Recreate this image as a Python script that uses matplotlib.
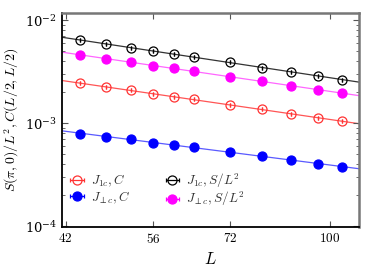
import numpy as np
import matplotlib
matplotlib.use("Agg")
import matplotlib.pyplot as plt
from matplotlib.ticker import FixedLocator, FixedFormatter, NullLocator, LogLocator

plt.rcParams['mathtext.fontset'] = 'cm'
plt.rcParams['font.family'] = ['DejaVu Serif']

# system sizes
L = np.array([44, 48, 52, 56, 60, 64, 72, 80, 88, 96, 104])

# correlation C(L/2,L/2)
C_1c = np.array([2.43e-3, 2.24e-3, 2.08e-3, 1.93e-3, 1.80e-3, 1.70e-3,
                 1.51e-3, 1.36e-3, 1.22e-3, 1.13e-3, 1.04e-3])
C_perp = np.array([7.87e-4, 7.41e-4, 6.98e-4, 6.48e-4, 6.15e-4, 5.84e-4,
                   5.22e-4, 4.77e-4, 4.36e-4, 4.02e-4, 3.79e-4])
# structure factor S(pi,0)/L^2
S_1c = np.array([6.39e-3, 5.88e-3, 5.42e-3, 4.99e-3, 4.70e-3, 4.36e-3,
                 3.90e-3, 3.46e-3, 3.16e-3, 2.87e-3, 2.64e-3])
S_perp = np.array([4.56e-3, 4.23e-3, 3.93e-3, 3.62e-3, 3.41e-3, 3.19e-3,
                   2.81e-3, 2.55e-3, 2.31e-3, 2.11e-3, 1.95e-3])

xticks = [42, 56, 72, 100]
xlim = (41.5, 110)

fig = plt.figure(figsize=(3.82, 2.68), dpi=100)
ax = fig.add_axes([0.162, 0.153, 0.778, 0.798])

series = [
    (C_1c, r'$J_{1c}, C$', '#ff3333', 'none', '#ff5555'),
    (C_perp, r'$J_{\perp c}, C$', '#0000ff', '#0000ff', '#5a5aff'),
    (S_1c, r'$J_{1c}, S/L^2$', '#000000', 'none', '#333333'),
    (S_perp, r'$J_{\perp c}, S/L^2$', '#ff00ff', '#ff00ff', '#ff66ff'),
]

xx = np.geomspace(xlim[0], xlim[1], 50)
for y, lab, col, face, lcol in series:
    # power-law fit line
    p = np.polyfit(np.log(L), np.log(y), 1)
    ax.plot(xx, np.exp(np.polyval(p, np.log(xx))), color=lcol, lw=0.9, zorder=1)
    ax.errorbar(L, y, xerr=np.zeros_like(y), fmt='o', ms=6.5, mfc=face, mec=col,
                mew=0.9, ecolor=col, elinewidth=0.9, capsize=1.5, label=lab, zorder=3)

ax.set_xscale('log')
ax.set_yscale('log')
ax.set_xlim(*xlim)
ax.set_ylim(9.8e-5, 1.17e-2)

ax.xaxis.set_major_locator(FixedLocator(xticks))
ax.xaxis.set_major_formatter(FixedFormatter(['$%d$' % t for t in xticks]))
ax.xaxis.set_minor_locator(NullLocator())
ax.yaxis.set_minor_locator(LogLocator(base=10, subs=np.arange(2, 10)))

ax.tick_params(which='both', direction='in', top=True, right=True,
               labelsize=9.5, color='#555555')
ax.tick_params(which='major', length=4, width=0.8)
ax.tick_params(which='minor', length=2, width=0.6)

for s in ['left', 'bottom']:
    ax.spines[s].set_color('black')
    ax.spines[s].set_linewidth(1.3)
for s in ['top', 'right']:
    ax.spines[s].set_color('#777777')
    ax.spines[s].set_linewidth(1.8)

ax.set_xlabel('$L$', fontsize=12, labelpad=4)
ax.set_ylabel(r'$S(\pi,0)/L^2, C(L/2,L/2)$', fontsize=10, labelpad=3)

ax.legend(loc='lower left', bbox_to_anchor=(0.0, 0.045), ncol=2, frameon=False,
          fontsize=9.5, handlelength=0.9, handletextpad=0.6, columnspacing=2.7,
          labelspacing=0.0, borderaxespad=0.3, labelcolor='#333333')

fig.savefig('out.png', dpi=100)
